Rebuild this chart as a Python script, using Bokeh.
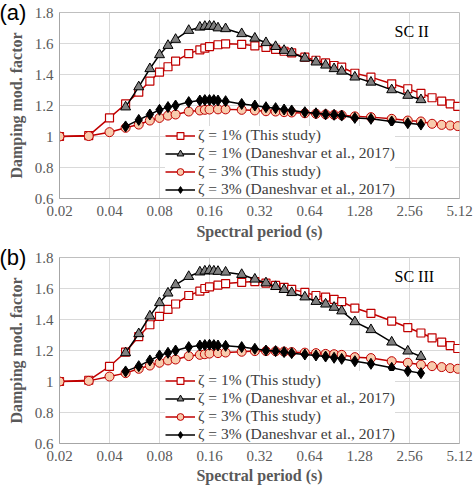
import numpy as np
from bokeh.plotting import figure
from bokeh.models import (FixedTicker, Legend, LegendItem, Label, Range1d,
                          CustomJSTickFormatter, Title)
from bokeh.layouts import column
from bokeh.embed import file_html
from bokeh.resources import INLINE

# ---------------- data ----------------
T_THIS = [0.02, 0.03, 0.04, 0.05, 0.06, 0.07, 0.08, 0.09, 0.1, 0.12, 0.14, 0.15,
          0.16, 0.18, 0.2, 0.25, 0.3, 0.35, 0.4, 0.45, 0.5, 0.6, 0.7, 0.8, 0.9,
          1.0, 1.2, 1.5, 2.0, 2.5, 3.0, 3.5, 4.0, 4.5, 5.0]
T_DAN = [0.05, 0.06, 0.07, 0.08, 0.09, 0.1, 0.12, 0.14, 0.15, 0.16, 0.17, 0.18,
         0.2, 0.25, 0.3, 0.35, 0.4, 0.45, 0.5, 0.6, 0.7, 0.8, 0.9, 1.0, 1.2,
         1.5, 2.0, 2.5, 3.0]

# Panel (a) SC II
A_SQ = [1.0, 1.006, 1.12, 1.21, 1.286, 1.357, 1.415, 1.45, 1.486, 1.535, 1.559,
        1.57, 1.58, 1.592, 1.598, 1.595, 1.585, 1.575, 1.562, 1.55, 1.54, 1.512,
        1.492, 1.475, 1.458, 1.447, 1.408, 1.383, 1.34, 1.308, 1.278, 1.25,
        1.228, 1.211, 1.194]
A_TRI = [1.19, 1.32, 1.437, 1.527, 1.587, 1.626, 1.684, 1.705, 1.71, 1.712,
         1.71, 1.70, 1.695, 1.663, 1.634, 1.605, 1.58, 1.555, 1.54, 1.505, 1.48,
         1.46, 1.437, 1.421, 1.383, 1.35, 1.301, 1.265, 1.237]
A_CIR = [1.0, 1.003, 1.028, 1.056, 1.077, 1.103, 1.12, 1.135, 1.142, 1.161,
         1.168, 1.172, 1.174, 1.175, 1.175, 1.172, 1.168, 1.163, 1.161, 1.157,
         1.155, 1.15, 1.147, 1.143, 1.14, 1.137, 1.13, 1.125, 1.114, 1.103,
         1.097, 1.082, 1.075, 1.071, 1.067]
A_DIA = [1.065, 1.107, 1.142, 1.172, 1.19, 1.2, 1.222, 1.232, 1.235, 1.235,
         1.235, 1.232, 1.228, 1.21, 1.2, 1.189, 1.183, 1.174, 1.168, 1.157,
         1.15, 1.143, 1.14, 1.135, 1.12, 1.114, 1.097, 1.086, 1.077]

# Panel (b) SC III
B_SQ = [1.0, 1.008, 1.097, 1.19, 1.29, 1.366, 1.42, 1.465, 1.5, 1.555, 1.583,
        1.6, 1.61, 1.622, 1.632, 1.64, 1.645, 1.635, 1.62, 1.607, 1.595, 1.575,
        1.555, 1.545, 1.53, 1.515, 1.474, 1.44, 1.39, 1.348, 1.313, 1.282,
        1.254, 1.232, 1.213]
B_TRI = [1.185, 1.308, 1.422, 1.508, 1.57, 1.624, 1.677, 1.706, 1.712, 1.716,
         1.712, 1.71, 1.705, 1.69, 1.66, 1.636, 1.612, 1.593, 1.573, 1.545,
         1.516, 1.499, 1.478, 1.455, 1.385, 1.334, 1.254, 1.196, 1.161]
B_CIR = [1.0, 1.004, 1.032, 1.054, 1.082, 1.103, 1.121, 1.136, 1.142, 1.164,
         1.172, 1.176, 1.18, 1.183, 1.187, 1.192, 1.196, 1.196, 1.195, 1.193,
         1.19, 1.186, 1.183, 1.178, 1.176, 1.172, 1.157, 1.151, 1.131, 1.121,
         1.108, 1.099, 1.093, 1.086, 1.082]
B_DIA = [1.065, 1.099, 1.136, 1.168, 1.185, 1.2, 1.222, 1.232, 1.235, 1.237,
         1.235, 1.232, 1.23, 1.222, 1.211, 1.2, 1.196, 1.19, 1.183, 1.174,
         1.168, 1.161, 1.153, 1.146, 1.131, 1.114, 1.088, 1.067, 1.054]

LABELS = ["ζ = 1% (This study)", "ζ = 1% (Daneshvar et al., 2017)",
          "ζ = 3% (This study)", "ζ = 3% (Daneshvar et al., 2017)"]

X_TICKS = [0.02, 0.04, 0.08, 0.16, 0.32, 0.64, 1.28, 2.56, 5.12]
X_LABELS = ["0.02", "0.04", "0.08", "0.16", "0.32", "0.64", "1.28", "2.56", "5.12"]
Y_TICKS = [0.6, 0.8, 1.0, 1.2, 1.4, 1.6, 1.8]
Y_LABELS = ["0.6", "0.8", "1", "1.2", "1.4", "1.6", "1.8"]

RED = "#C00000"
SERIF = "Liberation Serif"
TXT = "#595959"

FMT_CODE = """
let best = 0, d = 1e9;
for (let i = 0; i < tks.length; i++) {
  const e = Math.abs(tks[i] - tick);
  if (e < d) { d = e; best = i; }
}
return lbls[best];
"""


def make_panel(tag, sc, sq, tri, cir, dia, height, top, bottom, xstand):
    p = figure(width=474, height=height, x_axis_type="log",
               x_range=Range1d(0.02, 5.12), y_range=Range1d(0.6, 1.8),
               output_backend="svg", toolbar_location=None,
               min_border_left=59, min_border_right=15,
               min_border_top=top, min_border_bottom=bottom)
    p.background_fill_color = "white"
    p.border_fill_color = "white"
    p.outline_line_color = "#BFBFBF"
    p.outline_line_width = 1

    p.xaxis.ticker = FixedTicker(ticks=X_TICKS, minor_ticks=[])
    p.yaxis.ticker = FixedTicker(ticks=Y_TICKS, minor_ticks=[])
    p.xaxis.formatter = CustomJSTickFormatter(args=dict(tks=X_TICKS, lbls=X_LABELS), code=FMT_CODE)
    p.yaxis.formatter = CustomJSTickFormatter(args=dict(tks=Y_TICKS, lbls=Y_LABELS), code=FMT_CODE)

    for ax in (p.xaxis, p.yaxis):
        ax.major_tick_line_color = None
        ax.minor_tick_line_color = None
        ax.axis_line_color = "#A6A6A6"
        ax.major_label_text_font = SERIF
        ax.major_label_text_font_size = "15px"
        ax.major_label_text_color = TXT
        ax.axis_label_text_font = SERIF
        ax.axis_label_text_font_style = "bold"
        ax.axis_label_text_font_size = "16px"
        ax.axis_label_text_color = TXT

    p.xaxis.axis_label = "Spectral period (s)"
    p.yaxis.axis_label = "Damping mod. factor"
    p.xaxis.major_label_standoff = 1
    p.xaxis.axis_label_standoff = xstand
    p.yaxis.major_label_standoff = 0
    p.yaxis.axis_label_standoff = 7

    p.xgrid.grid_line_color = "#D9D9D9"
    p.ygrid.grid_line_color = "#D9D9D9"

    items = []
    l1 = p.line(T_THIS, sq, line_color=RED, line_width=1.5)
    m1 = p.scatter(T_THIS, sq, marker="square", size=8, fill_color="white",
                   line_color=RED, line_width=1.2)
    items.append(LegendItem(label=LABELS[0], renderers=[l1, m1]))
    l2 = p.line(T_DAN, tri, line_color="black", line_width=1.5)
    m2 = p.scatter(T_DAN, tri, marker="triangle", size=10, fill_color="#808080",
                   line_color="black", line_width=1)
    items.append(LegendItem(label=LABELS[1], renderers=[l2, m2]))
    l3 = p.line(T_THIS, cir, line_color=RED, line_width=1.5)
    m3 = p.scatter(T_THIS, cir, marker="circle", size=9, fill_color="#F8CBAD",
                   line_color=RED, line_width=1)
    items.append(LegendItem(label=LABELS[2], renderers=[l3, m3]))
    l4 = p.line(T_DAN, dia, line_color="black", line_width=1.5)
    m4 = p.scatter(T_DAN, dia, marker="diamond", size=11,
                   fill_color="black", line_color="black", line_width=1)
    items.append(LegendItem(label=LABELS[3], renderers=[l4, m4]))

    legend = Legend(items=items, location=(106, 0), orientation="vertical",
                    label_text_font=SERIF, label_text_font_size="15.5px",
                    label_text_color="#404040", glyph_width=30, glyph_height=17,
                    label_height=17, spacing=0, padding=0, margin=0,
                    label_standoff=3, border_line_color=None,
                    background_fill_color="white", background_fill_alpha=1)
    p.add_layout(legend)

    p.add_layout(Label(x=2.08, y=1.675, text=sc, text_font=SERIF,
                       text_font_size="16px", text_color="black",
                       text_align="left", text_baseline="middle"))
    # panel tag, drawn in a zero-height title panel just above the frame
    p.add_layout(Title(text=tag, text_font="Liberation Sans",
                       text_font_size="22px", text_font_style="normal",
                       text_color="black", align="left",
                       vertical_align="middle", standoff=-26, offset=-60),
                 "above")
    return p


p1 = make_panel("(a)", "SC II", A_SQ, A_TRI, A_CIR, A_DIA, 244, 12, 46, 4)
p2 = make_panel("(b)", "SC III", B_SQ, B_TRI, B_CIR, B_DIA, 244, 13, 45, 3)

layout = column(p1, p2, spacing=0)

with open("out.html", "w") as f:
    f.write(file_html(layout, INLINE))
